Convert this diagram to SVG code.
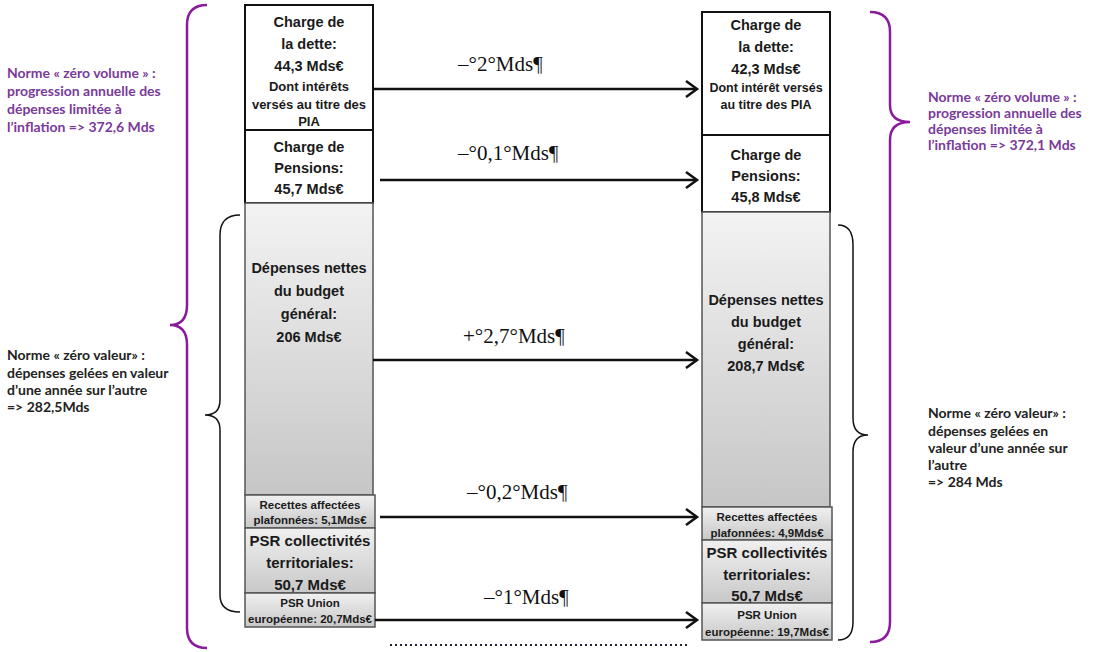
<svg xmlns="http://www.w3.org/2000/svg" width="1093" height="652" viewBox="0 0 1093 652">
<style>
.bx{font-family:"Liberation Sans",Arial,sans-serif;font-weight:bold;fill:#1a1a1a;text-anchor:middle}
.wb{fill:#fff;stroke:#111;stroke-width:2}
.gb{stroke:#555;stroke-width:1.5}
.lbl{font-family:"Liberation Serif","Times New Roman",serif;font-size:21px;fill:#111}
.side{font-family:Lato,"Open Sans",sans-serif;font-weight:bold;font-size:14px}
.pur{fill:#7a3a9a}
.blk{fill:#222}
.arr{stroke:#111;stroke-width:2.5;fill:none;marker-end:url(#ah)}
</style>
<defs>
<marker id="ah" markerUnits="userSpaceOnUse" markerWidth="16" markerHeight="18" refX="13" refY="9" orient="auto" viewBox="0 0 16 18">
<path d="M2,1 L13,9 L2,17" fill="none" stroke="#111" stroke-width="2.5"/>
</marker>
<linearGradient id="g1" x1="0" y1="0" x2="0" y2="1">
<stop offset="0" stop-color="#f3f3f3"/><stop offset="1" stop-color="#c6c6c6"/>
</linearGradient>
<linearGradient id="g2" x1="0" y1="0" x2="0" y2="1">
<stop offset="0" stop-color="#f0f0f0"/><stop offset="1" stop-color="#c8c8c8"/>
</linearGradient>
</defs>
<rect width="1093" height="652" fill="#fff"/>

<g id="braces" fill="none">
<path d="M207 5 Q187 5 187 25 L187 305 Q187 325 170 325 Q187 325 187 345 L187 628 Q187 648 207 648" stroke="#8a1c9c" stroke-width="2.5"/>
<path d="M240 215 Q220 215 220 235 L220 400 Q220 415 205 415 Q220 415 220 430 L220 595 Q220 612 240 612" stroke="#111" stroke-width="1.5"/>
<path d="M870 12 Q890 12 890 32 L890 105 Q890 122 910 122 Q890 122 890 140 L890 622 Q890 642 870 642" stroke="#8a1c9c" stroke-width="2.5"/>
<path d="M838 225 Q853 225 853 245 L853 418 Q853 435 868 435 Q853 435 853 452 L853 622 Q853 640 838 640" stroke="#111" stroke-width="1.5"/>
</g>

<g id="side-labels">
<text class="side pur" x="7" y="78">Norme « zéro volume » :</text>
<text class="side pur" x="7" y="96">progression annuelle des</text>
<text class="side pur" x="7" y="114">dépenses limitée à</text>
<text class="side pur" x="7" y="132">l’inflation =&gt; 372,6 Mds</text>
<text class="side blk" x="7" y="360">Norme « zéro valeur» :</text>
<text class="side blk" x="7" y="378">dépenses gelées en valeur</text>
<text class="side blk" x="7" y="395">d’une année sur l’autre</text>
<text class="side blk" x="7" y="412">=&gt; 282,5Mds</text>
<text class="side pur" x="928" y="102">Norme « zéro volume » :</text>
<text class="side pur" x="928" y="118">progression annuelle des</text>
<text class="side pur" x="928" y="134">dépenses limitée à</text>
<text class="side pur" x="928" y="150">l’inflation =&gt; 372,1 Mds</text>
<text class="side blk" x="928" y="418">Norme « zéro valeur» :</text>
<text class="side blk" x="928" y="436">dépenses gelées en</text>
<text class="side blk" x="928" y="453">valeur d’une année sur</text>
<text class="side blk" x="928" y="470">l’autre</text>
<text class="side blk" x="928" y="487">=&gt; 284 Mds</text>
</g>

<g id="L-dette">
<rect class="wb" x="245" y="5" width="128" height="125"/>
<text class="bx" x="309" y="27" font-size="14.5">Charge de</text>
<text class="bx" x="309" y="49" font-size="14.5">la dette:</text>
<text class="bx" x="309" y="71" font-size="14.5">44,3 Mds€</text>
<text class="bx" x="309" y="91" font-size="13">Dont intérêts</text>
<text class="bx" x="309" y="109" font-size="13">versés au titre des</text>
<text class="bx" x="309" y="126" font-size="13">PIA</text>
</g>
<g id="L-pensions">
<rect class="wb" x="245" y="130" width="128" height="73"/>
<text class="bx" x="309" y="152" font-size="14.5">Charge de</text>
<text class="bx" x="309" y="173" font-size="14.5">Pensions:</text>
<text class="bx" x="309" y="194" font-size="14.5">45,7 Mds€</text>
</g>
<g id="L-depenses">
<rect class="gb" x="245" y="203" width="128" height="292" fill="url(#g1)"/>
<text class="bx" x="309" y="273" font-size="14.5">Dépenses nettes</text>
<text class="bx" x="309" y="296" font-size="14.5">du budget</text>
<text class="bx" x="309" y="319" font-size="14.5">général:</text>
<text class="bx" x="309" y="342" font-size="14.5">206 Mds€</text>
</g>
<g id="L-recettes">
<rect class="gb" x="245" y="495" width="130" height="33" fill="url(#g2)"/>
<text class="bx" x="310" y="509" font-size="11.5">Recettes affectées</text>
<text class="bx" x="310" y="524" font-size="11.5">plafonnées: 5,1Mds€</text>
</g>
<g id="L-psrcoll">
<rect class="gb" x="245" y="528" width="130" height="65" fill="url(#g2)"/>
<text class="bx" x="310" y="546" font-size="15">PSR collectivités</text>
<text class="bx" x="310" y="568" font-size="15">territoriales:</text>
<text class="bx" x="310" y="590" font-size="15">50,7 Mds€</text>
</g>
<g id="L-psrue">
<rect class="gb" x="245" y="593" width="130" height="34" fill="url(#g2)"/>
<text class="bx" x="310" y="607" font-size="11.5">PSR Union</text>
<text class="bx" x="310" y="623" font-size="11.5">européenne: 20,7Mds€</text>
</g>

<g id="R-dette">
<rect class="wb" x="702" y="12" width="128" height="123"/>
<text class="bx" x="766" y="30" font-size="14.5">Charge de</text>
<text class="bx" x="766" y="52" font-size="14.5">la dette:</text>
<text class="bx" x="766" y="74" font-size="14.5">42,3 Mds€</text>
<text class="bx" x="766" y="92" font-size="12.5">Dont intérêt versés</text>
<text class="bx" x="766" y="109" font-size="12.5">au titre des PIA</text>
</g>
<g id="R-pensions">
<rect class="wb" x="702" y="135" width="128" height="77"/>
<text class="bx" x="766" y="160" font-size="14.5">Charge de</text>
<text class="bx" x="766" y="181" font-size="14.5">Pensions:</text>
<text class="bx" x="766" y="202" font-size="14.5">45,8 Mds€</text>
</g>
<g id="R-depenses">
<rect class="gb" x="702" y="212" width="128" height="295" fill="url(#g1)"/>
<text class="bx" x="766" y="305" font-size="14.5">Dépenses nettes</text>
<text class="bx" x="766" y="327" font-size="14.5">du budget</text>
<text class="bx" x="766" y="349" font-size="14.5">général:</text>
<text class="bx" x="766" y="371" font-size="14.5">208,7 Mds€</text>
</g>
<g id="R-recettes">
<rect class="gb" x="702" y="507" width="130" height="33" fill="url(#g2)"/>
<text class="bx" x="767" y="521" font-size="11.5">Recettes affectées</text>
<text class="bx" x="767" y="537" font-size="11.5">plafonnées: 4,9Mds€</text>
</g>
<g id="R-psrcoll">
<rect class="gb" x="702" y="540" width="130" height="63" fill="url(#g2)"/>
<text class="bx" x="767" y="558" font-size="15">PSR collectivités</text>
<text class="bx" x="767" y="580" font-size="15">territoriales:</text>
<text class="bx" x="767" y="601" font-size="15">50,7 Mds€</text>
</g>
<g id="R-psrue">
<rect class="gb" x="702" y="603" width="130" height="37" fill="url(#g2)"/>
<text class="bx" x="767" y="619" font-size="11.5">PSR Union</text>
<text class="bx" x="767" y="636" font-size="11.5">européenne: 19,7Mds€</text>
</g>

<g id="connectors">
<line class="arr" x1="373" y1="89" x2="697" y2="89"/>
<line class="arr" x1="380" y1="180" x2="697" y2="180"/>
<line class="arr" x1="373" y1="360" x2="697" y2="360"/>
<line class="arr" x1="380" y1="517" x2="697" y2="517"/>
<line class="arr" x1="375" y1="620" x2="697" y2="620"/>
<line x1="390" y1="645" x2="688" y2="645" stroke="#223" stroke-width="2" stroke-dasharray="2,3"/>
<text class="lbl" x="458" y="71">–°2°Mds¶</text>
<text class="lbl" x="458" y="160">–°0,1°Mds¶</text>
<text class="lbl" x="463" y="343">+°2,7°Mds¶</text>
<text class="lbl" x="467" y="499">–°0,2°Mds¶</text>
<text class="lbl" x="484" y="604">–°1°Mds¶</text>
</g>
</svg>
